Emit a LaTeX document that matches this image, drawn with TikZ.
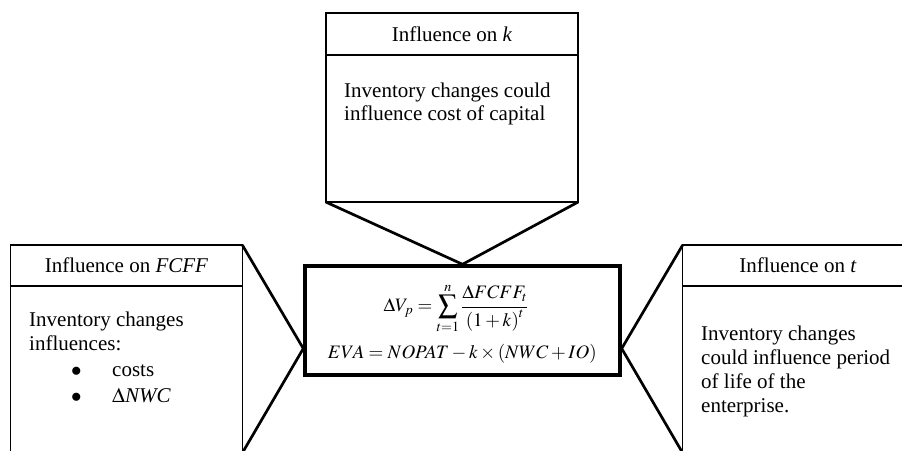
\documentclass[tikz,border=0pt]{standalone}
\usepackage{mathptmx}
\usepackage{fontspec}
\setmainfont{Liberation Serif}
\usetikzlibrary{calc}
\begin{document}
\begin{tikzpicture}[x=1pt,y=-1pt,
  every node/.style={font=\fontsize{21}{23.5}\selectfont, inner sep=0pt},
  panel/.style={draw, line width=1.5pt, outer sep=0pt},
  eqbox/.style={draw, line width=4pt},
  rulel/.style={line width=1.5pt},
  conn/.style={line width=2.7pt, line join=miter},
  txt/.style={align=left},
  formula/.style={font=\fontsize{19}{22}\selectfont}]
\useasboundingbox (0,0) rectangle (902,450);
\clip (0,0) rectangle (902,450);
% boxes
\node[panel, minimum width=252pt, minimum height=189pt] (top) at (452,107.6) {};
\node[panel, minimum width=231.6pt, minimum height=208pt] (left) at (126.5,349) {};
\node[panel, minimum width=230.3pt, minimum height=208pt] (right) at (797.85,349) {};
\node[eqbox, minimum width=314.4pt, minimum height=108.4pt] (ctr) at (462.5,320.5) {};
% header rules
\draw[rulel] ([yshift=-41.7pt]top.north west) -- ([yshift=-41.7pt]top.north east);
\draw[rulel] ([yshift=-41pt]left.north west) -- ([yshift=-41pt]left.north east);
\draw[rulel] ([yshift=-41pt]right.north west) -- ([yshift=-41pt]right.north east);
% headers
\node[anchor=base] (topH) at (452,41.7) {Influence on \textit{k}};
\node[anchor=base] (leftH) at (126.5,272.7) {Influence on \textit{FCFF}};
\node[anchor=base] (rightH) at (798,272.7) {Influence on \textit{t}};
% bodies (base anchor = last line baseline)
\node[txt, anchor=base west] (topB) at (344,120.7) {Inventory changes could\\influence cost of capital};
\node[txt, anchor=base west] (leftB) at (29,402.7) {Inventory changes\\influences:\\[3pt]\hspace*{42pt}\makebox[41pt][l]{$\bullet$}costs\\[2.5pt]\hspace*{42pt}\makebox[41pt][l]{$\bullet$}$\Delta$\textit{NWC}};
\node[txt, anchor=base west, font=\fontsize{21}{24.2}\selectfont] (rightB) at (701,412.6) {Inventory changes\\could influence period\\of life of the\\enterprise.};
% formulas
\node[formula, anchor=base] (f1) at (456,311.7) {$\displaystyle \Delta V_p = \sum_{t=1}^{n}\frac{\Delta FCFF_t}{\left(1+k\right)^t}$};
\node[formula, anchor=base] (f2) at (462.4,358.3) {$EVA = NOPAT - k\times(NWC+IO)$};
% connectors
\coordinate (cl) at ([yshift=-28pt]ctr.west);
\coordinate (cr) at ([yshift=-28pt]ctr.east);
\draw[conn] (top.south west) -- (ctr.north) -- (top.south east);
\draw[conn] (left.north east) -- (cl) -- (left.south east);
\draw[conn] (right.north west) -- (cr) -- (right.south west);
\end{tikzpicture}
\end{document}
